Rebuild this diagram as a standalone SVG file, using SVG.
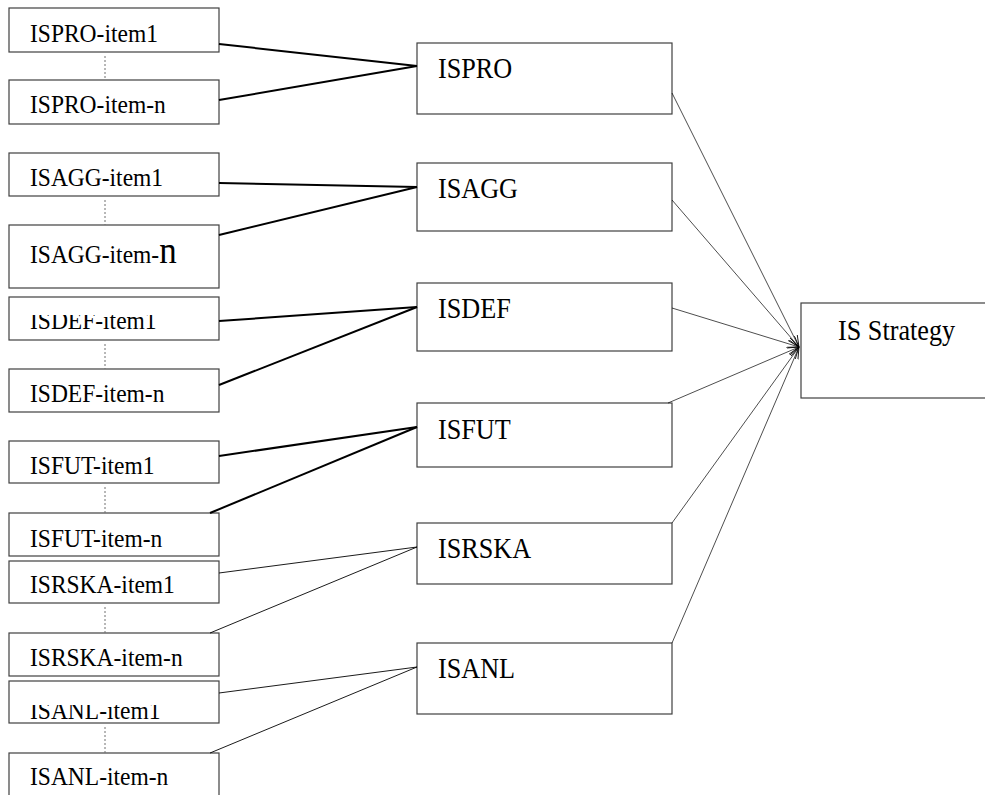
<svg xmlns="http://www.w3.org/2000/svg" width="985" height="795" viewBox="0 0 985 795">
  <style>
    .box { fill: #ffffff; stroke: #404040; stroke-width: 1.2; }
    .item { font-family: "Liberation Serif", "Times New Roman", serif; font-size: 23.5px; fill: #000000; }
    .main { font-family: "Liberation Serif", "Times New Roman", serif; font-size: 26.2px; fill: #000000; }
    .dots { stroke: #707070; stroke-width: 1; stroke-dasharray: 2 2; fill: none; }
    .thick { stroke: #000000; stroke-width: 2; fill: none; }
    .thin { stroke: #000000; stroke-width: 0.9; fill: none; }
    .feed { stroke: #000000; stroke-width: 0.7; fill: none; marker-end: url(#open-arrow); }
  </style>
  <defs>
    <marker id="open-arrow" markerUnits="userSpaceOnUse" markerWidth="14" markerHeight="10" refX="12" refY="4" orient="auto">
      <path d="M0,0 L12,4 L0,8" fill="none" stroke="#000000" stroke-width="0.8"/>
    </marker>
    <!-- clip rect in the label's own (scaled) coordinates: trims the top of the capitals -->
    <clipPath id="clip-top"><rect x="-5" y="-13.2" width="220" height="30"/></clipPath>
  </defs>
  <rect width="985" height="795" fill="#ffffff"/>

  <!-- item boxes -->
  <g id="ispro-item1"><rect class="box" x="9" y="8" width="210" height="44"/><text class="item" transform="matrix(1 0 0 1.06 30 42)">ISPRO-item1</text></g>
  <g id="ispro-item-n"><rect class="box" x="9" y="80" width="210" height="44"/><text class="item" transform="matrix(1 0 0 1.06 30 113)">ISPRO-item-n</text></g>
  <g id="isagg-item1"><rect class="box" x="9" y="153" width="210" height="43"/><text class="item" transform="matrix(1 0 0 1.06 30 186)">ISAGG-item1</text></g>
  <g id="isagg-item-n"><rect class="box" x="9" y="225" width="210" height="63"/><text class="item" transform="matrix(1 0 0 1.06 30 263)">ISAGG-item-<tspan font-size="35">n</tspan></text></g>
  <g id="isdef-item1"><rect class="box" x="9" y="297" width="210" height="43"/><text class="item" transform="matrix(1 0 0 1.06 30 329)" clip-path="url(#clip-top)">ISDEF-item1</text></g>
  <g id="isdef-item-n"><rect class="box" x="9" y="369" width="210" height="43"/><text class="item" transform="matrix(1 0 0 1.06 30 402)">ISDEF-item-n</text></g>
  <g id="isfut-item1"><rect class="box" x="9" y="441" width="210" height="42"/><text class="item" transform="matrix(1 0 0 1.06 30 474)">ISFUT-item1</text></g>
  <g id="isfut-item-n"><rect class="box" x="9" y="513" width="210" height="43"/><text class="item" transform="matrix(1 0 0 1.06 30 547)">ISFUT-item-n</text></g>
  <g id="isrska-item1"><rect class="box" x="9" y="561" width="210" height="42"/><text class="item" transform="matrix(1 0 0 1.06 30 593)">ISRSKA-item1</text></g>
  <g id="isrska-item-n"><rect class="box" x="9" y="633" width="210" height="43"/><text class="item" transform="matrix(1 0 0 1.06 30 666)">ISRSKA-item-n</text></g>
  <g id="isanl-item1"><rect class="box" x="9" y="681" width="210" height="42"/><text class="item" transform="matrix(1 0 0 1.06 30 719)" clip-path="url(#clip-top)">ISANL-item1</text></g>
  <g id="isanl-item-n"><rect class="box" x="9" y="753" width="210" height="50"/><text class="item" transform="matrix(1 0 0 1.06 30 785)">ISANL-item-n</text></g>

  <!-- category boxes -->
  <g id="ispro"><rect class="box" x="417" y="43" width="255" height="71"/><text class="main" transform="matrix(1 0 0 1.1 438 78)">ISPRO</text></g>
  <g id="isagg"><rect class="box" x="417" y="163" width="255" height="68"/><text class="main" transform="matrix(1 0 0 1.1 438 198)">ISAGG</text></g>
  <g id="isdef"><rect class="box" x="417" y="283" width="255" height="68"/><text class="main" transform="matrix(1 0 0 1.1 438 318)">ISDEF</text></g>
  <g id="isfut"><rect class="box" x="417" y="403" width="255" height="64"/><text class="main" transform="matrix(1 0 0 1.1 438 439)">ISFUT</text></g>
  <g id="isrska"><rect class="box" x="417" y="523" width="255" height="61"/><text class="main" transform="matrix(1 0 0 1.1 438 558)">ISRSKA</text></g>
  <g id="isanl"><rect class="box" x="417" y="643" width="255" height="71"/><text class="main" transform="matrix(1 0 0 1.1 438 678)">ISANL</text></g>

  <!-- strategy box -->
  <g id="is-strategy"><rect class="box" x="801" y="303" width="190" height="95"/><text class="main" transform="matrix(1 0 0 1.1 838 340)">IS Strategy</text></g>

  <g id="connectors">
    <!-- dotted continuation between first and n-th item -->
    <line class="dots" x1="105" y1="56" x2="105" y2="80"/>
    <line class="dots" x1="105" y1="200" x2="105" y2="225"/>
    <line class="dots" x1="105" y1="344" x2="105" y2="369"/>
    <line class="dots" x1="105" y1="487" x2="105" y2="513"/>
    <line class="dots" x1="105" y1="607" x2="105" y2="633"/>
    <line class="dots" x1="105" y1="727" x2="105" y2="753"/>

    <!-- items to categories -->
    <line class="thick" x1="219" y1="44" x2="417" y2="66"/>
    <line class="thick" x1="219" y1="100" x2="417" y2="66"/>
    <line class="thick" x1="219" y1="183" x2="417" y2="187"/>
    <line class="thick" x1="219" y1="235" x2="417" y2="187"/>
    <line class="thick" x1="219" y1="321" x2="417" y2="307"/>
    <line class="thick" x1="219" y1="385" x2="417" y2="307"/>
    <line class="thick" x1="219" y1="456" x2="417" y2="427"/>
    <line class="thick" x1="210" y1="513" x2="417" y2="427"/>
    <line class="thin" x1="219" y1="573" x2="417" y2="547"/>
    <line class="thin" x1="210" y1="633" x2="417" y2="547"/>
    <line class="thin" x1="219" y1="693" x2="417" y2="667"/>
    <line class="thin" x1="210" y1="753" x2="417" y2="667"/>

    <!-- categories to strategy -->
    <line class="feed" x1="672" y1="93" x2="799" y2="347"/>
    <line class="feed" x1="672" y1="200" x2="799" y2="347"/>
    <line class="feed" x1="672" y1="308" x2="799" y2="347"/>
    <line class="feed" x1="668" y1="403" x2="799" y2="347"/>
    <line class="feed" x1="672" y1="523" x2="799" y2="347"/>
    <line class="feed" x1="672" y1="643" x2="799" y2="347"/>
  </g>
</svg>
